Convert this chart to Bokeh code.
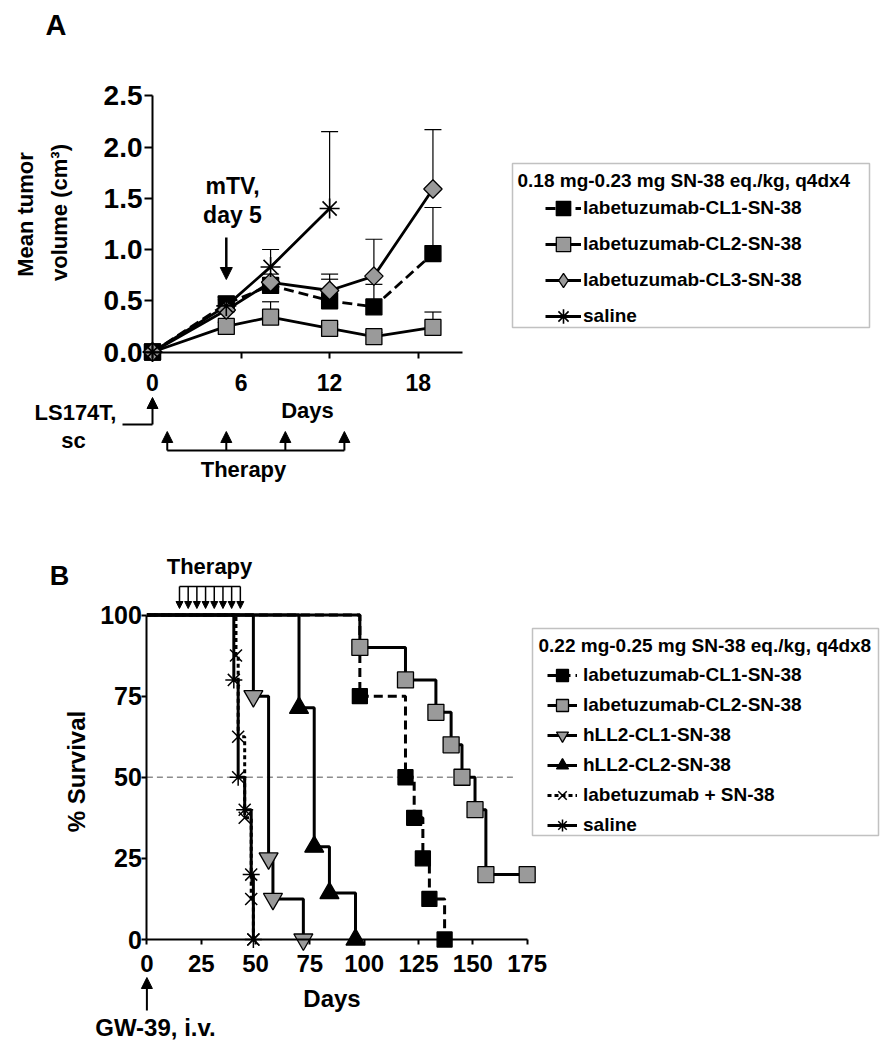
from math import pi
from bokeh.plotting import figure
from bokeh.models import (Range1d, LinearAxis, FixedTicker, Label, Arrow, NormalHead,
                          Whisker, TeeHead, ColumnDataSource, Legend, LegendItem, BoxAnnotation)
from bokeh.embed import file_html
from bokeh.resources import INLINE

FONT = "Liberation Sans"
GRAY = "#9a9a9a"

# ---------------- Panel A data (mean tumor volume, cm^3) ----------------
days_a = [0, 5, 8, 12, 15, 19]
cl1_mean = [0, 0.47, 0.65, 0.50, 0.44, 0.96]
cl1_sem = [0, 0.06, 0.07, 0.21, 0.22, 0.45]
cl2_mean = [0, 0.25, 0.34, 0.23, 0.15, 0.24]
cl2_sem = [0, 0.04, 0.15, 0.04, 0.04, 0.15]
cl3_mean = [0, 0.41, 0.68, 0.60, 0.74, 1.59]
cl3_sem = [0, 0.10, 0.08, 0.16, 0.36, 0.58]
days_saline_a = [0, 5, 8, 12]
saline_mean = [0, 0.45, 0.83, 1.40]
saline_sem = [0, 0.09, 0.17, 0.75]
therapy_days_a = [1, 5, 9, 13]
mtv_day = 5
yticks_a = [0, 0.5, 1.0, 1.5, 2.0, 2.5]
xticks_a = [0, 6, 12, 18]
legend_title_a = "0.18 mg-0.23 mg SN-38 eq./kg, q4dx4"
labels_a = ["labetuzumab-CL1-SN-38", "labetuzumab-CL2-SN-38", "labetuzumab-CL3-SN-38", "saline"]

# ---------------- Panel B data (% survival, event times in days) ----------------
b_cl1_t = [98, 119, 123, 127, 130, 137]
b_cl1_s = [75, 50, 37.5, 25, 12.5, 0]
b_cl2_t = [98, 119, 133, 140, 145, 151, 156, 175]
b_cl2_s = [90, 80, 70, 60, 50, 40, 20, 20]
b_h1_t = [49, 56, 58, 72]
b_h1_s = [75, 25, 12.5, 0]
b_h2_t = [70, 77, 84, 96]
b_h2_s = [71.4, 28.6, 14.3, 0]
b_lab_t = [41, 42, 45, 48, 49]
b_lab_s = [87.5, 62.5, 37.5, 12.5, 0]
b_sal_t = [40, 42, 45, 48, 49]
b_sal_s = [80, 50, 40, 20, 0]
therapy_days_b = [15, 19, 23, 27, 31, 35, 39, 43]
median_level = 50
median_extent = [0, 169]
yticks_b = [0, 25, 50, 75, 100]
xticks_b = [0, 25, 50, 75, 100, 125, 150, 175]
legend_title_b = "0.22 mg-0.25 mg SN-38 eq./kg, q4dx8"
labels_b = ["labetuzumab-CL1-SN-38", "labetuzumab-CL2-SN-38", "hLL2-CL1-SN-38",
            "hLL2-CL2-SN-38", "labetuzumab + SN-38", "saline"]

# ---------------- layout (picture pixels) ----------------
W, H = 884, 1042

A_X0, A_KX, A_Y0, A_KY = 152.0, 14.76, 351.5, 102.5
def ax(px): return (px - A_X0) / A_KX
def ay(py): return (A_Y0 - py) / A_KY

B_X0, B_KX, B_Y0, B_KY = 146.4, 2.173, 939.0, 3.245
def bx(px): return (px - B_X0) / B_KX
def by(py): return (B_Y0 - py) / B_KY

p = figure(width=W, height=H, min_border=0, title=None,
           x_range=Range1d(0, W), y_range=Range1d(H, 0),
           x_axis_type=None, y_axis_type=None,
           output_backend="svg", toolbar_location=None)
p.outline_line_color = None
p.background_fill_color = "white"
p.extra_x_ranges = {"xa": Range1d(ax(0), ax(W)), "xb": Range1d(bx(0), bx(W))}
p.extra_y_ranges = {"ya": Range1d(ay(H), ay(0)), "yb": Range1d(by(H), by(0))}
RA = dict(x_range_name="xa", y_range_name="ya")
RB = dict(x_range_name="xb", y_range_name="yb")


def style_axis(axis, size, tick_out, standoff):
    axis.axis_line_width = 2
    axis.axis_line_color = "black"
    axis.major_tick_line_width = 2
    axis.major_tick_in = 0
    axis.major_tick_out = tick_out
    axis.minor_tick_line_color = None
    axis.major_label_text_font = FONT
    axis.major_label_text_font_style = "bold"
    axis.major_label_text_font_size = size
    axis.major_label_text_color = "black"
    axis.major_label_standoff = standoff


def label(x, y, text, size, align="center", angle=0.0, baseline="middle"):
    p.add_layout(Label(x=x, y=y, text=text, text_font=FONT, text_font_style="bold",
                       text_font_size=size, text_align=align, text_baseline=baseline,
                       angle=angle, text_color="black"))


def arrow(x0, y0, x1, y1, rng, head=None, width=2.0):
    p.add_layout(Arrow(x_start=x0, y_start=y0, x_end=x1, y_end=y1, end=head, start=None,
                       line_width=width, line_color="black", **rng))


def nhead(size):
    return NormalHead(size=size, fill_color="black", line_color="black", line_width=1)


def whiskers(xs, means, sems, rng):
    xx = [x for x, s in zip(xs, sems) if s > 0]
    lo = [m for m, s in zip(means, sems) if s > 0]
    hi = [m + s for m, s in zip(means, sems) if s > 0]
    src = ColumnDataSource(dict(x=xx, lo=lo, hi=hi))
    p.add_layout(Whisker(source=src, base="x", lower="lo", upper="hi", dimension="height",
                         lower_head=None,
                         upper_head=TeeHead(size=17, line_width=1.2, line_color="black"),
                         line_width=1.2, line_color="black", **rng))


def make_legend(items, x_left, y_bottom, gw, gh, spacing, standoff):
    leg = Legend(items=items, location=(x_left, H - y_bottom), padding=0, margin=0,
                 spacing=spacing, glyph_width=gw, glyph_height=gh, label_height=gh,
                 label_standoff=standoff, border_line_color=None, background_fill_alpha=0)
    leg.label_text_font = FONT
    leg.label_text_font_style = "bold"
    leg.label_text_font_size = "19px"
    leg.label_text_color = "black"
    p.add_layout(leg)
    return leg


# ======================= Panel A =======================
yaxA = LinearAxis(fixed_location=0, bounds=(0, 2.5), ticker=FixedTicker(ticks=yticks_a), **RA)
yaxA.major_label_overrides = {t: f"{t:.1f}" for t in yticks_a}
style_axis(yaxA, "28px", 8, 2)
p.add_layout(yaxA, "left")
xaxA = LinearAxis(fixed_location=0, bounds=(0, 21), ticker=FixedTicker(ticks=xticks_a), **RA)
style_axis(xaxA, "23px", 6, 16)
p.add_layout(xaxA, "below")

whiskers(days_a, cl1_mean, cl1_sem, RA)
whiskers(days_a, cl2_mean, cl2_sem, RA)
whiskers(days_a, cl3_mean, cl3_sem, RA)
whiskers(days_saline_a, saline_mean, saline_sem, RA)

LW_A = 2.8
l_cl1 = p.line(days_a, cl1_mean, line_width=LW_A, line_color="black", line_dash="10 5", **RA)
l_cl2 = p.line(days_a, cl2_mean, line_width=LW_A, line_color="black", **RA)
l_sal = p.line(days_saline_a, saline_mean, line_width=LW_A, line_color="black", **RA)
l_cl3 = p.line(days_a, cl3_mean, line_width=LW_A, line_color="black", **RA)
m_cl2 = p.scatter(days_a, cl2_mean, marker="square", size=16, fill_color=GRAY,
                  line_color="black", line_width=1.3, **RA)
m_cl1 = p.scatter(days_a, cl1_mean, marker="square", size=16, fill_color="black",
                  line_color="black", line_width=1.3, **RA)
# diamond key (drawn underneath, fully hidden by the rotated-square marker; used by the legend)
k_cl3 = p.scatter(days_a, cl3_mean, marker="diamond", size=16, fill_color=GRAY,
                  line_color="black", line_width=1.3, **RA)
m_cl3 = p.scatter(days_a, cl3_mean, marker="square", angle=pi / 4, size=13, fill_color=GRAY,
                  line_color="black", line_width=1.3, **RA)
m_sal = p.scatter(days_saline_a, saline_mean, marker="asterisk", size=20,
                  line_color="black", line_width=1.6, **RA)

make_legend([LegendItem(label=labels_a[0], renderers=[l_cl1, m_cl1]),
             LegendItem(label=labels_a[1], renderers=[l_cl2, m_cl2]),
             LegendItem(label=labels_a[2], renderers=[l_cl3, k_cl3]),
             LegendItem(label=labels_a[3], renderers=[l_sal, m_sal])],
            545, 334, 36, 36, -1, 2)
p.add_layout(BoxAnnotation(left=512, right=869, top=163, bottom=327,
                           fill_alpha=0, line_color="#333333", line_width=1.5))
label(517, 180, legend_title_a, "19px", align="left")

label(55.5, 24, "A", "29px")
label(25, 214, "Mean tumor", "22px", angle=pi / 2)
label(59, 212, "volume (cm\u00b3)", "22px", angle=pi / 2)
label(232, 185, "mTV,", "23px")
label(232, 214, "day 5", "23px")
arrow(mtv_day, ay(237), mtv_day, ay(279), RA, head=nhead(12), width=2.5)
label(307, 410, "Days", "22px")
label(75, 412, "LS174T,", "22px")
label(73, 440, "sc", "22px")
arrow(ax(122), ay(424), 0, ay(424), RA, width=2)
arrow(0, ay(424), 0, ay(397), RA, head=nhead(11), width=2)
for d in therapy_days_a:
    arrow(d, ay(450), d, ay(431), RA, head=nhead(11), width=2)
arrow(therapy_days_a[0], ay(450), therapy_days_a[-1], ay(450), RA, width=2)
label(243, 469, "Therapy", "22px")

# ======================= Panel B =======================
yaxB = LinearAxis(fixed_location=0, bounds=(0, 100), ticker=FixedTicker(ticks=yticks_b), **RB)
style_axis(yaxB, "25px", 5, 0)
p.add_layout(yaxB, "left")
xaxB = LinearAxis(fixed_location=0, bounds=(0, 175), ticker=FixedTicker(ticks=xticks_b), **RB)
style_axis(xaxB, "24px", 5, 10)
p.add_layout(xaxB, "below")

p.line(median_extent, [median_level, median_level], line_color="#8c8c8c", line_width=1.5,
       line_dash="6 4", **RB)

LW_B = 3
def km(t, s, dash="solid"):
    return p.step([0] + t, [100] + s, mode="after", line_width=LW_B, line_color="black",
                  line_dash=dash, **RB)

k_cl1b = km(b_cl1_t, b_cl1_s, "9 5")
k_lab = km(b_lab_t, b_lab_s, "4 3")
k_cl2b = km(b_cl2_t, b_cl2_s)
k_h1 = km(b_h1_t, b_h1_s)
k_h2 = km(b_h2_t, b_h2_s)
k_sal = km(b_sal_t, b_sal_s)

s_cl2 = p.scatter(b_cl2_t, b_cl2_s, marker="square", size=16, fill_color=GRAY,
                  line_color="black", line_width=1.3, **RB)
s_cl1 = p.scatter(b_cl1_t, b_cl1_s, marker="square", size=15, fill_color="black",
                  line_color="black", line_width=1.3, **RB)
s_h1 = p.scatter(b_h1_t, b_h1_s, marker="inverted_triangle", size=19, fill_color=GRAY,
                 line_color="black", line_width=1.3, **RB)
s_h2 = p.scatter(b_h2_t, b_h2_s, marker="triangle", size=19, fill_color="black",
                 line_color="black", line_width=1.3, **RB)
s_lab = p.scatter(b_lab_t, b_lab_s, marker="x", size=17, line_color="black", line_width=1.5, **RB)
s_sal = p.scatter(b_sal_t, b_sal_s, marker="asterisk", size=17, line_color="black",
                  line_width=1.5, **RB)

make_legend([LegendItem(label=labels_b[0], renderers=[k_cl1b, s_cl1]),
             LegendItem(label=labels_b[1], renderers=[k_cl2b, s_cl2]),
             LegendItem(label=labels_b[2], renderers=[k_h1, s_h1]),
             LegendItem(label=labels_b[3], renderers=[k_h2, s_h2]),
             LegendItem(label=labels_b[4], renderers=[k_lab, s_lab]),
             LegendItem(label=labels_b[5], renderers=[k_sal, s_sal])],
            547, 840, 30, 30, -1, 6)
p.add_layout(BoxAnnotation(left=532, right=878, top=628, bottom=835,
                           fill_alpha=0, line_color="#333333", line_width=1.5))
label(538, 645, legend_title_b, "19px", align="left")

label(59, 575, "B", "27px")
label(209, 566, "Therapy", "22px")
for d in therapy_days_b:
    arrow(d, by(586), d, by(608), RB, head=nhead(7), width=1.5)
arrow(therapy_days_b[0], by(586), therapy_days_b[-1], by(586), RB, width=1.5)
label(76, 771, "% Survival", "24px", angle=pi / 2)
label(331.5, 998, "Days", "24px")
label(155, 1027, "GW-39, i.v.", "24px")
arrow(0, by(1010), 0, by(977), RB, head=nhead(11), width=2)

open("out.html", "w").write(file_html(p, INLINE))
